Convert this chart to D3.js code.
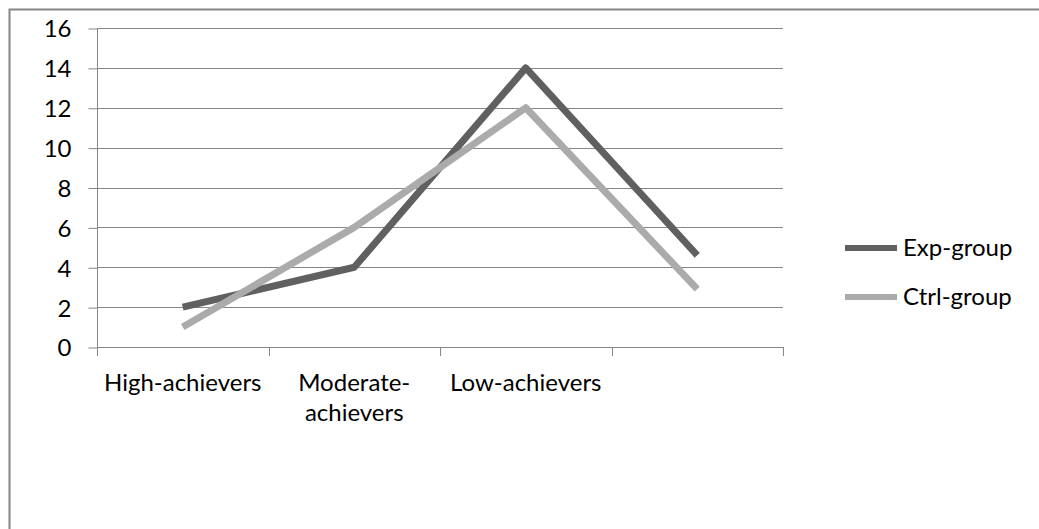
<!DOCTYPE html>
<html>
<head>
<meta charset="utf-8">
<script src="https://cdn.jsdelivr.net/npm/d3@7"></script>
<style>
  html, body { margin: 0; padding: 0; background: #fff; }
  svg { display: block; }
  text { font-family: Lato, "Open Sans", sans-serif; fill: #000; }
</style>
</head>
<body>
<script>
// Achievement groups (the fourth slot has no label)
const categories = ["High-achievers", "Moderate-\nachievers", "Low-achievers", ""];
const expGroup = [2, 4, 14, 4.6];
const ctrlGroup = [1, 6, 12, 2.9];
const yTicks = [0, 2, 4, 6, 8, 10, 12, 14, 16];
const seriesNames = ["Exp-group", "Ctrl-group"];
const seriesColors = ["#606060", "#ababab"];

const W = 1039, H = 529;
const FS = "24px";
const plot = { left: 97, right: 783, top: 28, bottom: 347 };

const svg = d3.select("body").append("svg").attr("width", W).attr("height", H);

// chart frame (top and left edges)
svg.append("path")
  .attr("d", `M9.5,${H} V9.5 H${W}`)
  .attr("fill", "none").attr("stroke", "#868686").attr("stroke-width", 2);

const x = d3.scaleBand().domain(d3.range(categories.length))
  .range([plot.left, plot.right]).paddingInner(0).paddingOuter(0);
const y = d3.scaleLinear().domain([0, 16]).range([plot.bottom, plot.top]);

// horizontal gridlines
svg.append("g").selectAll("line").data(yTicks.slice(1)).join("line")
  .attr("x1", plot.left).attr("x2", plot.right)
  .attr("y1", d => Math.round(y(d)) + 0.5).attr("y2", d => Math.round(y(d)) + 0.5)
  .attr("stroke", "#868686").attr("stroke-width", 1);

// y axis
const yAxis = d3.axisLeft(y).tickValues(yTicks).tickSize(9).tickPadding(17);
const gy = svg.append("g").attr("transform", `translate(${plot.left + 0.5},0.5)`).call(yAxis);
gy.select(".domain").attr("stroke", "#868686").attr("d", `M0,${plot.bottom}V${plot.top}`);
gy.selectAll(".tick line").attr("stroke", "#868686");
gy.selectAll(".tick text").style("font-size", FS).attr("dy", "0.35em")
  .style("font-family", "Lato, 'Open Sans', sans-serif").attr("fill", "#000");

// x axis baseline and ticks at category boundaries
const boundaries = d3.range(categories.length + 1).map(i => plot.left + i * x.bandwidth());
svg.append("line")
  .attr("x1", plot.left).attr("x2", plot.right)
  .attr("y1", Math.round(y(0)) + 0.5).attr("y2", Math.round(y(0)) + 0.5)
  .attr("stroke", "#868686");
svg.append("g").selectAll("line").data(boundaries).join("line")
  .attr("x1", d => Math.round(d) + 0.5).attr("x2", d => Math.round(d) + 0.5)
  .attr("y1", Math.round(y(0))).attr("y2", Math.round(y(0)) + 9)
  .attr("stroke", "#868686");

// category labels (multi-line)
const labels = svg.append("g").selectAll("text").data(categories).join("text")
  .attr("text-anchor", "middle")
  .attr("x", (d, i) => x(i) + x.bandwidth() / 2)
  .attr("y", 383)
  .attr("dy", "0.35em")
  .style("font-size", FS);
labels.each(function(d) {
  const t = d3.select(this);
  d.split("\n").forEach((line, j) => {
    t.append("tspan").attr("x", t.attr("x")).attr("dy", j === 0 ? "0.35em" : 30).text(line);
  });
});

// series lines
const line = d3.line()
  .x((d, i) => x(i) + x.bandwidth() / 2)
  .y(d => y(d));
[expGroup, ctrlGroup].forEach((vals, k) => {
  svg.append("path").datum(vals)
    .attr("d", line)
    .attr("fill", "none")
    .attr("stroke", seriesColors[k])
    .attr("stroke-width", 7)
    .attr("stroke-linejoin", "round")
    .attr("stroke-linecap", "butt");
});

// legend
const legend = svg.append("g").selectAll("g").data(seriesNames).join("g")
  .attr("transform", (d, i) => `translate(845,${248 + i * 49})`);
legend.append("rect").attr("x", 0).attr("y", -3).attr("width", 52).attr("height", 6)
  .attr("fill", (d, i) => seriesColors[i]);
legend.append("text").attr("x", 58).attr("y", 0).attr("dy", "0.35em")
  .style("font-size", FS).text(d => d);
</script>
</body>
</html>
